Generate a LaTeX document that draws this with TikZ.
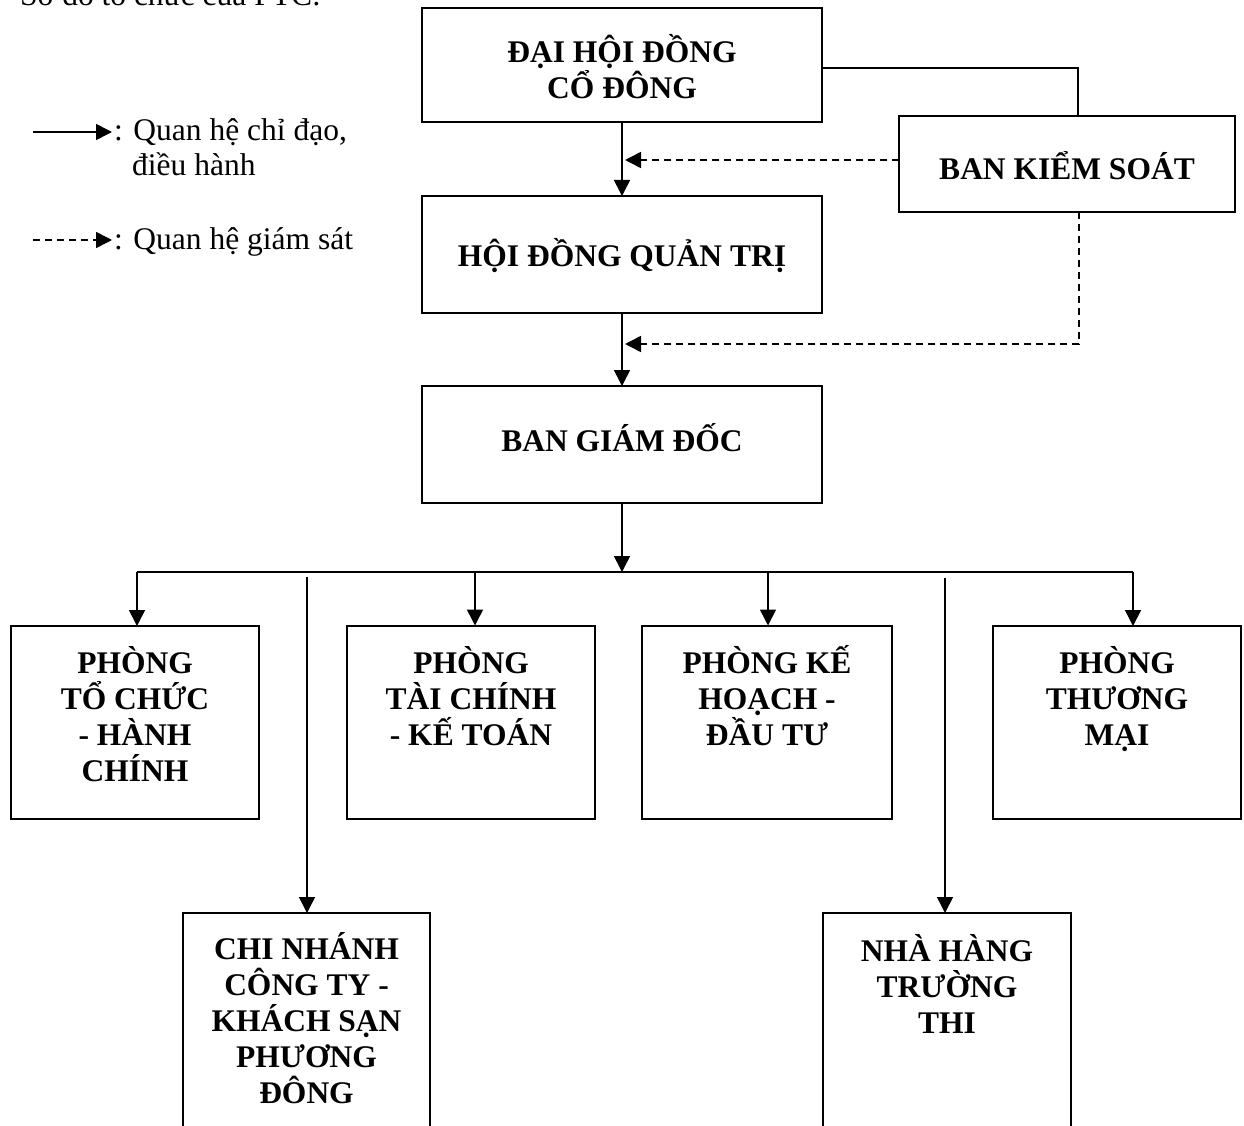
\documentclass[tikz,border=0pt]{standalone}
\usepackage{fontspec}
\setmainfont{Liberation Serif}
\usetikzlibrary{arrows.meta}
\begin{document}
\begin{tikzpicture}[x=1pt,y=-1pt,
  boxst/.style={draw, line width=2.4pt, inner sep=0pt, outer sep=0pt},
  lbl/.style={font=\bfseries\fontsize{31.5}{36}\selectfont, align=center, inner sep=0pt},
  reg/.style={font=\fontsize{31.5}{35}\selectfont, inner sep=0pt},
  conn/.style={line width=1.6pt},
  arr/.style={line width=1.6pt, -{Triangle[length=16pt,width=16pt]}},
  darr/.style={line width=1.6pt, dash pattern=on 7pt off 5pt, -{Triangle[length=16pt,width=16pt]}},
  dline/.style={line width=1.6pt, dash pattern=on 7pt off 5pt}
]
\useasboundingbox (0,0) rectangle (1244,1126);
\fill[white] (0,0) rectangle (1244,1126);

% title (cut off at top)
\node[reg, anchor=base west] (title) at (20,6) {Sơ đồ tổ chức của PTC:};

% legend
\coordinate (l1a) at (33,132);
\coordinate (l1b) at (112,132);
\draw[arr] (l1a) -- (l1b);
\node[reg, anchor=base west] (leg1) at (114,141) {: Quan hệ chỉ đạo,};
\node[reg, anchor=base west] (leg1b) at (132,176) {điều hành};
\coordinate (l2a) at (33,240);
\coordinate (l2b) at (112,240);
\draw[darr] (l2a) -- (l2b);
\node[reg, anchor=base west] (leg2) at (114,249) {: Quan hệ giám sát};

% boxes
\node[boxst, minimum width=400pt, minimum height=114pt] (dh) at (622,65) {};
\node[lbl, anchor=base] (dht) at (622,99) {ĐẠI HỘI ĐỒNG\\CỔ ĐÔNG};

\node[boxst, minimum width=336pt, minimum height=96pt] (bks) at (1067,164) {};
\node[lbl, anchor=base] (bkst) at (1067,179) {BAN KIỂM SOÁT};

\node[boxst, minimum width=400pt, minimum height=117pt] (hd) at (622,254.5) {};
\node[lbl, anchor=base] (hdt) at (622,266) {HỘI ĐỒNG QUẢN TRỊ};

\node[boxst, minimum width=400pt, minimum height=117pt] (bgd) at (622,444.5) {};
\node[lbl, anchor=base] (bgdt) at (622,451) {BAN GIÁM ĐỐC};

\node[boxst, minimum width=248pt, minimum height=193pt] (pa) at (135,722.5) {};
\node[lbl, anchor=base] (pat) at (135,781) {PHÒNG\\TỔ CHỨC\\- HÀNH\\CHÍNH};

\node[boxst, minimum width=248pt, minimum height=193pt] (pc) at (471,722.5) {};
\node[lbl, anchor=base] (pct) at (471,745) {PHÒNG\\TÀI CHÍNH\\- KẾ TOÁN};

\node[boxst, minimum width=250pt, minimum height=193pt] (pd) at (767,722.5) {};
\node[lbl, anchor=base] (pdt) at (767,745) {PHÒNG KẾ\\HOẠCH -\\ĐẦU TƯ};

\node[boxst, minimum width=248pt, minimum height=193pt] (pe) at (1117,722.5) {};
\node[lbl, anchor=base] (pet) at (1117,745) {PHÒNG\\THƯƠNG\\MẠI};

\node[boxst, minimum width=247pt, minimum height=240pt] (pf) at (306.5,1033) {};
\node[lbl, anchor=base] (pft) at (306.5,1103) {CHI NHÁNH\\CÔNG TY -\\KHÁCH SẠN\\PHƯƠNG\\ĐÔNG};

\node[boxst, minimum width=248pt, minimum height=240pt] (pg) at (947,1033) {};
\node[lbl, anchor=base] (pgt) at (947,1033) {NHÀ HÀNG\\TRƯỜNG\\THI};

% connectors
\coordinate (k1) at (1078,68);
\draw[conn] (dh.east |- k1) -- (k1) -- (k1 |- bks.north);
\draw[arr] (dh.south) -- (hd.north);
\coordinate (m1) at (622,160);
\draw[darr] (bks.west |- m1) -- ([xshift=3pt]m1);
\draw[arr] (hd.south) -- (bgd.north);
\coordinate (k2) at (1079,344);
\coordinate (m2) at (622,344);
\draw[darr] (k2 |- bks.south) -- (k2) -- ([xshift=3pt]m2);

\coordinate (bus) at (622,572);
\draw[arr] (bgd.south) -- (bus);
\coordinate (busL) at (137,572);
\coordinate (busR) at (1133,572);
\draw[conn] (busL) -- (busR);
\draw[arr] (busL) -- (busL |- pa.north);
\draw[arr] (475,572) -- (475,625.5);
\draw[arr] (768,572) -- (768,625.5);
\draw[arr] (busR) -- (busR |- pe.north);
\coordinate (vf) at (307,577);
\draw[arr] (vf) -- (vf |- pf.north);
\coordinate (vg) at (945,578);
\draw[arr] (vg) -- (vg |- pg.north);
\end{tikzpicture}
\end{document}
